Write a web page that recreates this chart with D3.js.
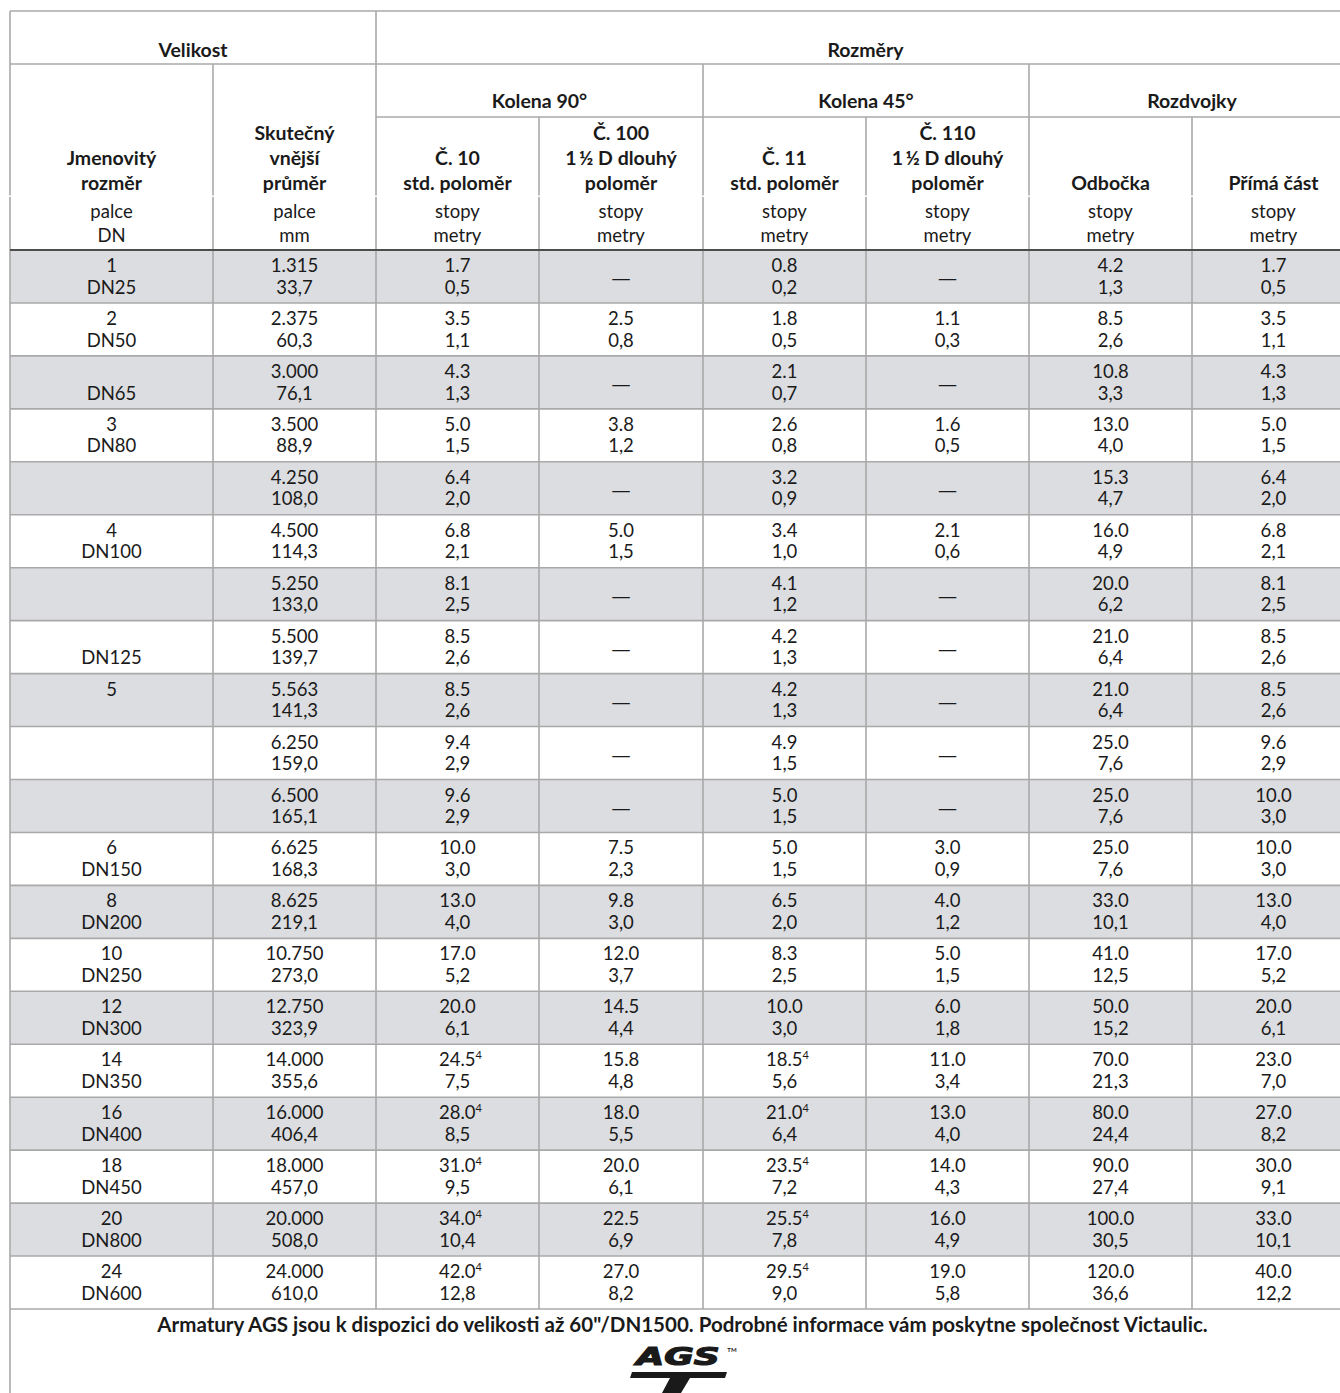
<!DOCTYPE html>
<html>
<head>
<meta charset="utf-8">
<style>
  body { margin: 0; background: #fff; }
  svg text { font-family: Lato, "Open Sans", sans-serif; fill: #1a1a1a; text-anchor: middle; }
  .hd { font-weight: bold; font-size: 19.5px; }
  .cell { font-size: 18.5px; }
  .dash { font-family: "Open Sans", sans-serif; font-size: 19px; }
</style>
</head>
<body>
<svg id="chart" width="1340" height="1393"></svg>
<script src="https://cdn.jsdelivr.net/npm/d3@7"></script>
<script>
var sizeInch = ["1","2","","3","","4","","","5","","","6","8","10","12","14","16","18","20","24"];
var sizeDN   = ["DN25","DN50","DN65","DN80","","DN100","","DN125","","","","DN150","DN200","DN250","DN300","DN350","DN400","DN450","DN800","DN600"];
var odInch   = ["1.315","2.375","3.000","3.500","4.250","4.500","5.250","5.500","5.563","6.250","6.500","6.625","8.625","10.750","12.750","14.000","16.000","18.000","20.000","24.000"];
var odMm     = ["33,7","60,3","76,1","88,9","108,0","114,3","133,0","139,7","141,3","159,0","165,1","168,3","219,1","273,0","323,9","355,6","406,4","457,0","508,0","610,0"];
var no10Ft   = ["1.7","3.5","4.3","5.0","6.4","6.8","8.1","8.5","8.5","9.4","9.6","10.0","13.0","17.0","20.0","24.5","28.0","31.0","34.0","42.0"];
var no10M    = ["0,5","1,1","1,3","1,5","2,0","2,1","2,5","2,6","2,6","2,9","2,9","3,0","4,0","5,2","6,1","7,5","8,5","9,5","10,4","12,8"];
var no100Ft  = [null,"2.5",null,"3.8",null,"5.0",null,null,null,null,null,"7.5","9.8","12.0","14.5","15.8","18.0","20.0","22.5","27.0"];
var no100M   = [null,"0,8",null,"1,2",null,"1,5",null,null,null,null,null,"2,3","3,0","3,7","4,4","4,8","5,5","6,1","6,9","8,2"];
var no11Ft   = ["0.8","1.8","2.1","2.6","3.2","3.4","4.1","4.2","4.2","4.9","5.0","5.0","6.5","8.3","10.0","18.5","21.0","23.5","25.5","29.5"];
var no11M    = ["0,2","0,5","0,7","0,8","0,9","1,0","1,2","1,3","1,3","1,5","1,5","1,5","2,0","2,5","3,0","5,6","6,4","7,2","7,8","9,0"];
var no110Ft  = [null,"1.1",null,"1.6",null,"2.1",null,null,null,null,null,"3.0","4.0","5.0","6.0","11.0","13.0","14.0","16.0","19.0"];
var no110M   = [null,"0,3",null,"0,5",null,"0,6",null,null,null,null,null,"0,9","1,2","1,5","1,8","3,4","4,0","4,3","4,9","5,8"];
var branchFt = ["4.2","8.5","10.8","13.0","15.3","16.0","20.0","21.0","21.0","25.0","25.0","25.0","33.0","41.0","50.0","70.0","80.0","90.0","100.0","120.0"];
var branchM  = ["1,3","2,6","3,3","4,0","4,7","4,9","6,2","6,4","6,4","7,6","7,6","7,6","10,1","12,5","15,2","21,3","24,4","27,4","30,5","36,6"];
var runFt    = ["1.7","3.5","4.3","5.0","6.4","6.8","8.1","8.5","8.5","9.6","10.0","10.0","13.0","17.0","20.0","23.0","27.0","30.0","33.0","40.0"];
var runM     = ["0,5","1,1","1,3","1,5","2,0","2,1","2,5","2,6","2,6","2,9","3,0","3,0","4,0","5,2","6,1","7,0","8,2","9,1","10,1","12,2"];
var note4Rows = [15,16,17,18,19];   // rows with footnote 4 on No.10 / No.11 feet

var groupHeaders = [{label:"Velikost", from:0, to:2}, {label:"Rozměry", from:2, to:8}];
var subGroups = [{label:"Kolena 90°", from:2, to:4}, {label:"Kolena 45°", from:4, to:6}, {label:"Rozdvojky", from:6, to:8}];
var colHeaders = [["Jmenovitý","rozměr"],["Skutečný","vnější","průměr"],["Č. 10","std. poloměr"],
  ["Č. 100","1\u2009½ D dlouhý","poloměr"],["Č. 11","std. poloměr"],["Č. 110","1\u2009½ D dlouhý","poloměr"],
  ["Odbočka"],["Přímá část"]];
var unitHeaders = [["palce","DN"],["palce","mm"],["stopy","metry"],["stopy","metry"],["stopy","metry"],
  ["stopy","metry"],["stopy","metry"],["stopy","metry"]];
var footNote = "Armatury AGS jsou k dispozici do velikosti až 60\"/DN1500. Podrobné informace vám poskytne společnost Victaulic.";

var columns = [
  {top:sizeInch, bot:sizeDN}, {top:odInch, bot:odMm},
  {top:no10Ft, bot:no10M, note:true}, {top:no100Ft, bot:no100M},
  {top:no11Ft, bot:no11M, note:true}, {top:no110Ft, bot:no110M},
  {top:branchFt, bot:branchM}, {top:runFt, bot:runM}
];

// ---- layout ----
var colEdges = [10, 213, 376, 539, 703, 866, 1029, 1192, 1355];
var tableTop = 11, groupBot = 64, subBot = 117, headSplit = 196, headBot = 250, tableBot = 1309;
var lineCol = "#a9a9a9";

var svg = d3.select("#chart");
var nRows = sizeInch.length;
var y = d3.scaleBand().domain(d3.range(nRows)).range([headBot, tableBot]);
function cx(i) { return (colEdges[i] + colEdges[i+1]) / 2; }
function spanX(a, b) { return (colEdges[a] + colEdges[b]) / 2; }

// row shading
svg.append("g").selectAll("rect").data(d3.range(nRows).filter(function(i){ return i % 2 == 0; }))
  .enter().append("rect")
  .attr("x", colEdges[0]).attr("y", function(d){ return y(d); })
  .attr("width", colEdges[8] - colEdges[0]).attr("height", y.bandwidth())
  .attr("fill", "#dcdde0");

// grid lines
var grid = svg.append("g").attr("stroke", lineCol).attr("stroke-width", 1.6);
function hline(x1, x2, yy) { grid.append("line").attr("x1", x1).attr("x2", x2).attr("y1", yy).attr("y2", yy); }
function vline(xx, y1, y2) { grid.append("line").attr("x1", xx).attr("x2", xx).attr("y1", y1).attr("y2", y2); }
hline(colEdges[0], colEdges[8], tableTop);
hline(colEdges[0], colEdges[8], groupBot);
hline(colEdges[2], colEdges[8], subBot);
d3.range(1, nRows).forEach(function(i){ hline(colEdges[0], colEdges[8], y(i)); });
hline(colEdges[0], colEdges[8], tableBot);

// verticals: [column edge, start y]
var verticals = [[0, tableTop], [1, groupBot], [2, tableTop], [3, subBot], [4, groupBot], [5, subBot], [6, groupBot], [7, subBot]];
verticals.forEach(function(v){
  var xx = colEdges[v[0]];
  vline(xx, v[1], headSplit - 0.5);
  vline(xx, headSplit + 1, v[0] == 0 ? 1393 : tableBot);
});

// dark rule under header
svg.append("line").attr("x1", colEdges[0]).attr("x2", colEdges[8]).attr("y1", headBot).attr("y2", headBot)
  .attr("stroke", "#4d4d4d").attr("stroke-width", 2.2);

// multi-line text helper: one <text> per cell, lines as tspans
function multiText(g, cls, x, yFirst, lines, step) {
  var t = g.append("text").attr("class", cls).attr("x", x).attr("y", yFirst);
  lines.forEach(function(l, k){
    t.append("tspan").attr("x", x).attr("dy", k == 0 ? 0 : step).text(l);
  });
  return t;
}

// header texts
var hg = svg.append("g");
hg.selectAll(".grp").data(groupHeaders).enter().append("text").attr("class", "hd")
  .attr("x", function(d){ return spanX(d.from, d.to); }).attr("y", 57).text(function(d){ return d.label; });
hg.selectAll(".sub").data(subGroups).enter().append("text").attr("class", "hd")
  .attr("x", function(d){ return spanX(d.from, d.to); }).attr("y", 108).text(function(d){ return d.label; });
colHeaders.forEach(function(lines, i){
  multiText(hg, "hd", cx(i), 190 - (lines.length - 1) * 25, lines, 25);
});
unitHeaders.forEach(function(lines, i){
  multiText(hg, "cell", cx(i), 218, lines, 24);
});

// body cells
var body = svg.append("g");
var lineStep = 21.6;
columns.forEach(function(col, ci){
  d3.range(nRows).forEach(function(r){
    var top = y(r), x = cx(ci);
    if (col.top[r] === null) {
      body.append("text").attr("class", "dash").attr("x", x).attr("y", top + 35).text("\u2014");
      return;
    }
    var hasNote = col.note && note4Rows.indexOf(r) >= 0;
    if (col.top[r] !== "") {
      var t = body.append("text").attr("class", "cell").attr("x", hasNote ? x + 3 : x).attr("y", top + 22);
      t.append("tspan").text(col.top[r]);
      if (hasNote) t.append("tspan").attr("font-size", 11).attr("dy", -7).text("4");
    }
    if (col.bot[r] !== "") {
      body.append("text").attr("class", "cell").attr("x", x).attr("y", top + 22 + lineStep).text(col.bot[r]);
    }
  });
});

// footnote, sized to span the width it has in the original
var foot = svg.append("text").attr("class", "hd").style("font-size", "18px")
  .attr("x", spanX(0, 8)).attr("y", 1332).text(footNote);
var fw = foot.node().getComputedTextLength();
foot.style("font-size", (18 * 1051 / fw).toFixed(2) + "px");

// AGS logo
var logo = svg.append("g");
logo.append("text").attr("transform", "translate(678,1365) scale(1.5,1)")
  .style("font-family", "'DejaVu Sans', sans-serif")
  .style("font-size", "24px").style("font-weight", "bold").style("font-style", "oblique")
  .attr("stroke", "#1a1a1a").attr("stroke-width", 1.2)
  .text("AGS");
logo.append("text").attr("x", 732).attr("y", 1352).style("font-size", "6px").style("font-weight", "bold").text("TM");
logo.append("path")
  .attr("d", "M632,1372 L727,1372 L725,1378 L690,1378 L681,1393 L662,1393 L670,1378 L630,1378 Z")
  .attr("fill", "#1a1a1a");
</script>
</body>
</html>
